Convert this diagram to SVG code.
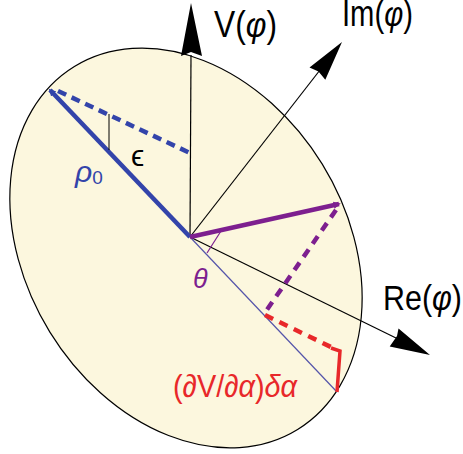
<svg xmlns="http://www.w3.org/2000/svg" width="463" height="454" viewBox="0 0 463 454">
<style>
.axis{stroke:#000;stroke-width:1.2;fill:none}
.head{fill:#000;stroke:none}
.lbl{font-family:"Liberation Sans",Arial,sans-serif;fill:#000}
.gr{font-style:italic}
.blue{stroke:#3344aa;fill:none}
.purple{stroke:#7d1f8f;fill:none}
.red{stroke:#e8282a;fill:none}
</style>
<defs>
<marker id="tipB" markerWidth="3" markerHeight="4" refX="1.2" refY="2" orient="auto" markerUnits="strokeWidth"><path d="M0,1.2 L1.6,2 L0,2.8 Z" fill="#3344aa"/></marker>
<marker id="tipP" markerWidth="3" markerHeight="4" refX="1.2" refY="2" orient="auto" markerUnits="strokeWidth"><path d="M0,1.2 L1.6,2 L0,2.8 Z" fill="#7d1f8f"/></marker>
</defs>
<rect width="463" height="454" fill="#fff"/>
<g id="disc">
<ellipse cx="186" cy="248" rx="213" ry="160" transform="rotate(58.4 186 248)" fill="#fcf7de" stroke="#000" stroke-width="1.2"/>
</g>
<g id="connectors">
<line class="axis" x1="190" y1="237" x2="191" y2="55"/>
<polygon class="head" points="191,3 202,56 191,52 181,56"/>
<line class="axis" x1="190" y1="237" x2="320" y2="70"/>
<polygon class="head" points="342,42 325.3,79.8 318.5,71.5 309.5,67.4"/>
<line class="axis" x1="190" y1="237" x2="396" y2="338"/>
<polygon class="head" points="430,355 389.7,346.4 397,336 398.5,328.4"/>
<line x1="190" y1="237" x2="337" y2="392" stroke="#5555aa" stroke-width="1.2"/>
<line class="blue" x1="190" y1="237" x2="50" y2="90" stroke-width="4.5" marker-end="url(#tipB)"/>
<line class="blue" x1="58" y1="91" x2="190" y2="153" stroke-width="4.5" stroke-dasharray="9 6"/>
<line x1="109" y1="114" x2="109" y2="150" stroke="#000" stroke-width="1"/>
<line class="purple" x1="190" y1="237" x2="339" y2="204" stroke-width="4.5" marker-end="url(#tipP)"/>
<line class="purple" x1="336" y1="210" x2="264" y2="314" stroke-width="4.5" stroke-dasharray="9 7"/>
<line class="purple" x1="221" y1="231" x2="207" y2="253" stroke-width="1.2"/>
<line class="red" x1="265" y1="315" x2="333" y2="348" stroke-width="4.5" stroke-dasharray="9 7"/>
<polyline class="red" points="331,348 340,351 337,392" stroke-width="3.5"/>
</g>
<g id="labels">
<text class="lbl" x="214" y="37" font-size="36" textLength="63" lengthAdjust="spacingAndGlyphs">V(<tspan class="gr">φ</tspan>)</text>
<text class="lbl" x="342" y="26" font-size="36" textLength="71" lengthAdjust="spacingAndGlyphs">Im(<tspan class="gr">φ</tspan>)</text>
<text class="lbl" x="383" y="310" font-size="35" textLength="79" lengthAdjust="spacingAndGlyphs">Re(<tspan class="gr">φ</tspan>)</text>
<text class="lbl" x="75" y="182" font-size="30" style="fill:#3344aa"><tspan class="gr">ρ</tspan><tspan font-size="19" y="184">0</tspan></text>
<text class="lbl" x="131" y="166" font-size="30" font-family="DejaVu Sans">ϵ</text>
<text class="lbl gr" x="193" y="288" font-size="27" style="fill:#7d1f8f">θ</text>
<text class="lbl" x="173" y="397" font-size="32" style="fill:#e8282a" textLength="124" lengthAdjust="spacingAndGlyphs">(∂V/∂<tspan class="gr">α</tspan>)<tspan class="gr">δα</tspan></text>
</g>
</svg>
